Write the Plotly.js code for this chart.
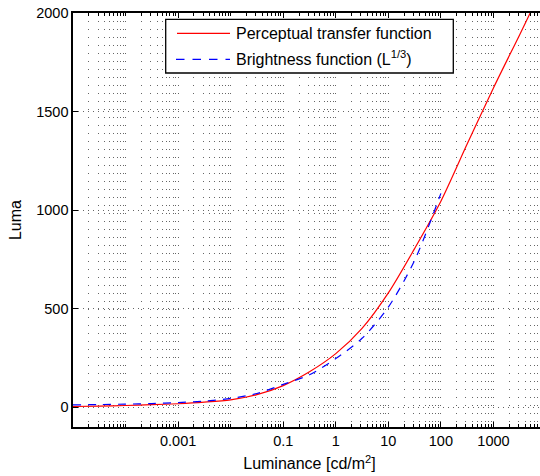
<!DOCTYPE html>
<html>
<head>
<meta charset="utf-8">
<script src="https://cdn.plot.ly/plotly-3.0.1.min.js"></script>
<style>
html, body { margin: 0; padding: 0; overflow: hidden; background: #fff; }
#chart { width: 547px; height: 476px; }
</style>
</head>
<body>
<div id="chart"></div>
<script>
// Luminance sample points (cd/m^2)
var lumRed = [0.00001, 0.0000316, 0.0001, 0.000316, 0.001, 0.00316, 0.01, 0.0316, 0.1, 0.316, 1, 3.16, 10, 31.6, 100, 316, 1000, 3160, 5000];
// Perceptual transfer function (luma)
var lumaRed = [4, 6, 9, 13, 18, 26, 38, 64, 110, 180, 272, 400, 580, 805, 1045, 1335, 1620, 1890, 2000];

var lumBlue = [0.00001, 0.0000316, 0.0001, 0.000316, 0.001, 0.00316, 0.01, 0.0316, 0.1, 0.316, 1, 3.16, 10, 31.6, 100];
// Brightness function (L^1/3)
var lumaBlue = [12, 14, 16, 19, 24, 31, 45, 70, 116, 165, 247, 350, 508, 745, 1085];

var seriesNames = ["Perceptual transfer function", "Brightness function (L<sup>1/3</sup>)"];

var xTickVals = [0.001, 0.1, 1, 10, 100, 1000];
var xTickText = ["0.001", "0.1", "1", "10", "100", "1000"];
var yTickVals = [0, 500, 1000, 1500, 2000];
var yTickText = ["0", "500", "1000", "1500", "2000"];

// minor grid positions (all unlabeled decade lines and 2..9 within each decade)
var minorVals = [];
for (var d = -5; d < 4; d++) {
  for (var k = 1; k <= 9; k++) {
    var v = k * Math.pow(10, d);
    if (k === 1 && xTickVals.indexOf(Number(v.toPrecision(6))) >= 0) continue;
    minorVals.push(v);
  }
}

var FONT = "Liberation Sans, Arial, Helvetica, sans-serif";
var GRID = "#666";

// plot-area pixel geometry -> paper coordinates (for the legend box)
var PL = 73, PR = 546, PT = 13, PB = 427;
function px(x) { return (x - PL) / (PR - PL); }
function py(y) { return (PB - y) / (PB - PT); }

var traces = [
  {
    x: lumRed, y: lumaRed, type: "scatter", mode: "lines",
    name: seriesNames[0],
    line: {color: "#ff0000", width: 1.2, shape: "spline", smoothing: 0.8}
  },
  {
    x: lumBlue, y: lumaBlue, type: "scatter", mode: "lines",
    name: seriesNames[1],
    line: {color: "#0000ff", width: 1.2, dash: "8px,7px", shape: "spline", smoothing: 0.8}
  }
];

var shapes = [
  {type: "rect", xref: "paper", yref: "paper", x0: px(165.7), x1: px(453.3), y0: py(73), y1: py(19.3),
   line: {color: "#000", width: 1.3}, fillcolor: "#fff", layer: "above"},
  {type: "line", xref: "paper", yref: "paper", x0: px(177), x1: px(230), y0: py(33.3), y1: py(33.3),
   line: {color: "#ff0000", width: 1.2}, layer: "above"},
  {type: "line", xref: "paper", yref: "paper", x0: px(176), x1: px(230), y0: py(59.3), y1: py(59.3),
   line: {color: "#0000ff", width: 1.2, dash: "8.5px,8px"}, layer: "above"}
];

var annotations = [
  {xref: "paper", yref: "paper", x: px(234), y: py(33.3), xanchor: "left", yanchor: "middle",
   text: seriesNames[0], showarrow: false, font: {family: FONT, size: 16, color: "#000"}},
  {xref: "paper", yref: "paper", x: px(234), y: py(58.3), xanchor: "left", yanchor: "middle",
   text: seriesNames[1], showarrow: false, font: {family: FONT, size: 16, color: "#000"}}
];

var layout = {
  width: 547, height: 476,
  margin: {l: PL, r: 547 - PR, t: PT, b: 476 - PB},
  paper_bgcolor: "#fff", plot_bgcolor: "#fff",
  font: {family: FONT, size: 14.5, color: "#000"},
  showlegend: false,
  shapes: shapes,
  annotations: annotations,
  xaxis: {
    type: "log",
    range: [-5, 4],
    tickmode: "array", tickvals: xTickVals, ticktext: xTickText,
    ticks: "inside", ticklen: 5, tickwidth: 1, tickcolor: "#000",
    showline: true, linecolor: "#000", linewidth: 1.6, mirror: "ticks",
    showgrid: true, gridcolor: GRID, gridwidth: 1, griddash: "1px,7px",
    zeroline: false,
    minor: {tickmode: "array", tickvals: minorVals, ticks: "inside", ticklen: 3, tickcolor: "#000",
            showgrid: true, gridcolor: GRID, gridwidth: 1, griddash: "1px,7px"},
    title: {text: "Luminance [cd/m<sup>2</sup>]", font: {family: FONT, size: 16}, standoff: 10},
    tickfont: {family: FONT, size: 14.5}
  },
  yaxis: {
    range: [-100, 2000],
    tickmode: "array", tickvals: yTickVals, ticktext: yTickText,
    ticks: "inside", ticklen: 5, tickwidth: 1, tickcolor: "#000",
    showline: true, linecolor: "#000", linewidth: 1.6, mirror: "ticks",
    showgrid: true, gridcolor: GRID, gridwidth: 1, griddash: "1px,4px",
    zeroline: false,
    title: {text: "Luma", font: {family: FONT, size: 16}, standoff: 10},
    tickfont: {family: FONT, size: 14.5}
  }
};

Plotly.newPlot("chart", traces, layout, {displayModeBar: false, staticPlot: true});
</script>
</body>
</html>
